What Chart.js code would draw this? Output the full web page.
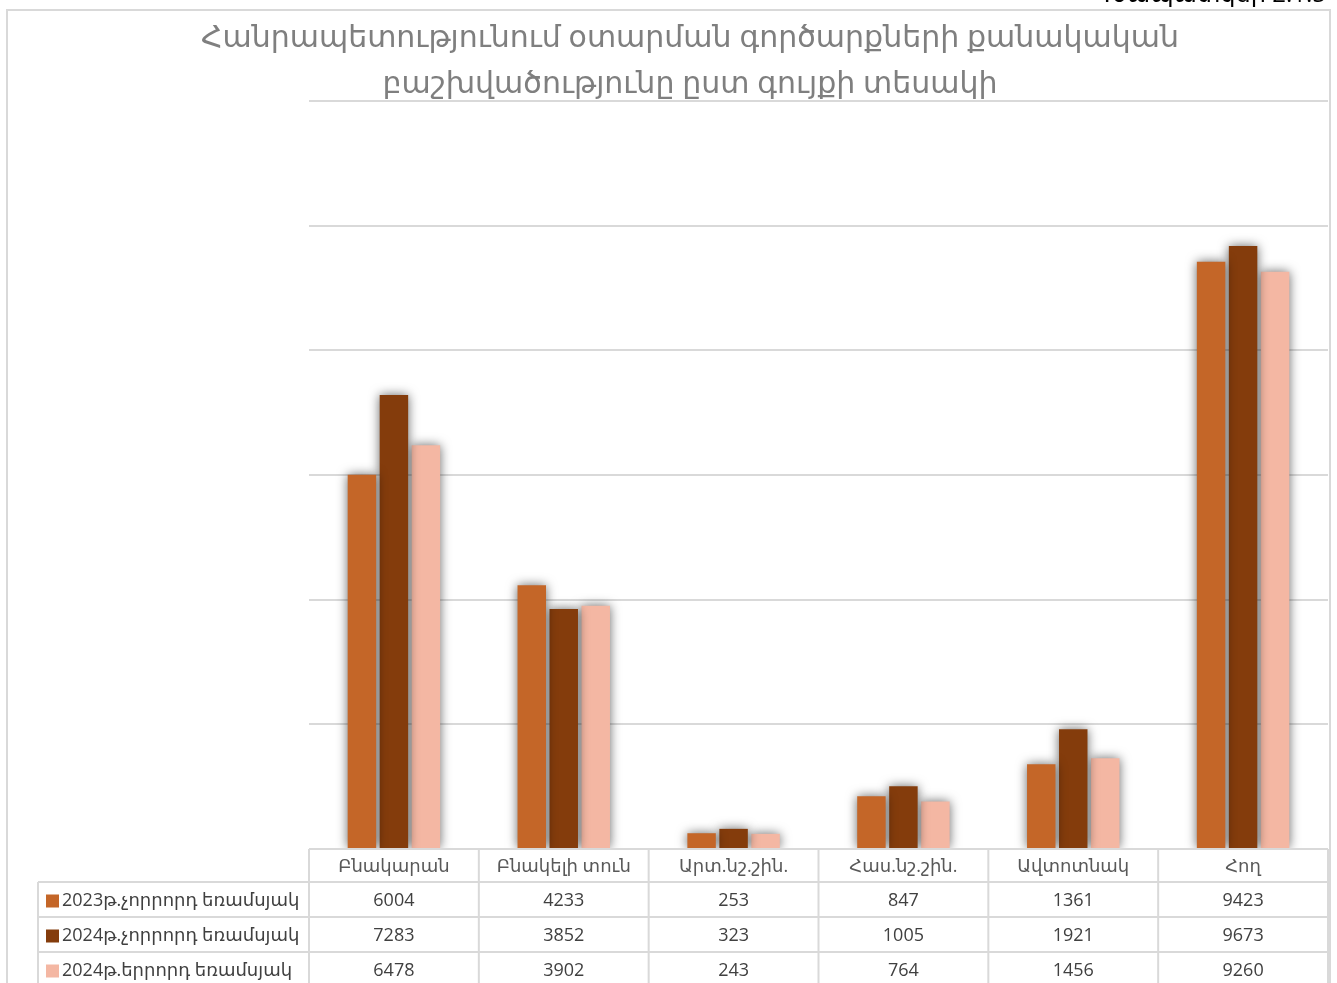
<!DOCTYPE html>
<html>
<head>
<meta charset="utf-8">
<script src="https://cdn.jsdelivr.net/npm/chart.js@4/dist/chart.umd.min.js"></script>
<style>
  html, body { margin: 0; padding: 0; background: #fff; }
  #wrap { position: relative; width: 1337px; height: 983px; overflow: hidden; }
</style>
</head>
<body>
<div id="wrap"><canvas id="myChart" width="1337" height="983"></canvas></div>
<script>
const titleLines = ["Հանրապետությունում օտարման գործարքների քանակական", "բաշխվածությունը ըստ գույքի տեսակի"];
const figLabel = "Գծապատկեր 2.1.5";
const categories = ["Բնակարան", "Բնակելի տուն", "Արտ.նշ.շին.", "Հաս.նշ.շին.", "Ավտոտնակ", "Հող"];
const seriesNames = ["2023թ.չորրորդ եռամսյակ", "2024թ.չորրորդ եռամսյակ", "2024թ.երրորդ եռամսյակ"];
const q4_2023 = [6004, 4233, 253, 847, 1361, 9423];
const q4_2024 = [7283, 3852, 323, 1005, 1921, 9673];
const q3_2024 = [6478, 3902, 243, 764, 1456, 9260];
const yTicks = [0, 2000, 4000, 6000, 8000, 10000, 12000];

const colors = ["#C46628", "#843C0C", "#F4B7A3"];
const font = '"Open Sans", "DejaVu Sans", sans-serif';
const lineCol = "#d9d9d9";

// shadow under the bars
const barShadow = {
  id: "barShadow",
  beforeDatasetsDraw(chart) {
    const ctx = chart.ctx;
    ctx.save();
    ctx.shadowColor = "rgba(0,0,0,0.6)";
    ctx.shadowBlur = 11;
    ctx.shadowOffsetX = 0;
    ctx.shadowOffsetY = 0;
  },
  afterDatasetsDraw(chart) {
    chart.ctx.restore();
  }
};

// frame, title and data table
const decor = {
  id: "decor",
  beforeDraw(chart) {
    const ctx = chart.ctx;
    ctx.save();
    ctx.fillStyle = "#fff";
    ctx.fillRect(0, 0, chart.width, chart.height);
    ctx.strokeStyle = lineCol;
    ctx.lineWidth = 2;
    ctx.beginPath();
    ctx.moveTo(7, 990);
    ctx.lineTo(7, 10);
    ctx.lineTo(1330, 10);
    ctx.lineTo(1330, 990);
    ctx.stroke();
    ctx.restore();
  },
  afterDraw(chart) {
    const ctx = chart.ctx;
    const x = chart.scales.x;
    const area = chart.chartArea;
    ctx.save();

    // figure label (cut at top)
    ctx.fillStyle = "#000";
    ctx.font = "24px " + font;
    ctx.textAlign = "right";
    ctx.textBaseline = "alphabetic";
    ctx.fillText(figLabel, 1326, 2);

    // title
    ctx.fillStyle = "#7f7f7f";
    ctx.font = "30px " + font;
    ctx.textAlign = "center";
    ctx.textBaseline = "middle";
    ctx.fillText(titleLines[0], 690, 38);
    ctx.fillText(titleLines[1], 690, 84);

    // table
    const left = area.left, right = area.right;
    const top = area.bottom;
    const rowH = [33, 35, 35, 35];
    const legendLeft = 38;
    const step = (right - left) / categories.length;

    ctx.strokeStyle = lineCol;
    ctx.lineWidth = 2;
    ctx.beginPath();
    let y = top;
    ctx.moveTo(left, y); ctx.lineTo(right, y);
    const rowYs = [];
    for (let i = 0; i < rowH.length; i++) {
      rowYs.push(y);
      y += rowH[i];
      ctx.moveTo(legendLeft, y);
      ctx.lineTo(right, y);
    }
    for (let c = 0; c <= categories.length; c++) {
      const vx = left + c * step;
      ctx.moveTo(vx, top); ctx.lineTo(vx, 990);
    }
    ctx.moveTo(legendLeft, top + rowH[0]); ctx.lineTo(legendLeft, 990);
    ctx.stroke();

    // header labels
    ctx.font = "18px " + font;
    ctx.textAlign = "center";
    ctx.textBaseline = "middle";
    ctx.fillStyle = "#595959";
    categories.forEach((c, i) => {
      ctx.fillText(c, x.getPixelForValue(i), rowYs[0] + rowH[0] / 2 + 1);
    });

    // value rows
    chart.data.datasets.forEach((ds, r) => {
      const cy = rowYs[r + 1] + rowH[r + 1] / 2 + 1;
      ctx.fillStyle = ds.backgroundColor;
      ctx.fillRect(46, cy - 6, 13, 13);
      ctx.fillStyle = "#404040";
      ctx.textAlign = "left";
      ctx.fillText(ds.label, 62, cy);
      ctx.textAlign = "center";
      ds.data.forEach((v, i) => {
        ctx.fillText(String(v), x.getPixelForValue(i), cy);
      });
    });
    ctx.restore();
  }
};

const ctx = document.getElementById("myChart").getContext("2d");
new Chart(ctx, {
  type: "bar",
  data: {
    labels: categories,
    datasets: [
      { label: seriesNames[0], data: q4_2023, backgroundColor: colors[0] },
      { label: seriesNames[1], data: q4_2024, backgroundColor: colors[1] },
      { label: seriesNames[2], data: q3_2024, backgroundColor: colors[2] }
    ]
  },
  options: {
    responsive: false,
    animation: false,
    devicePixelRatio: 1,
    layout: { padding: { left: 309, right: 9, top: 101, bottom: 134 } },
    datasets: {
      bar: { categoryPercentage: 0.565, barPercentage: 0.89 }
    },
    plugins: {
      legend: { display: false },
      title: { display: false },
      tooltip: { enabled: false }
    },
    scales: {
      x: {
        display: false,
        grid: { display: false }
      },
      y: {
        min: 0,
        max: yTicks[yTicks.length - 1],
        afterBuildTicks(axis) { axis.ticks = yTicks.map(v => ({ value: v })); },
        ticks: { display: false },
        border: { display: false },
        grid: { color: lineCol, lineWidth: 2, drawTicks: false }
      }
    }
  },
  plugins: [decor, barShadow]
});
</script>
</body>
</html>
